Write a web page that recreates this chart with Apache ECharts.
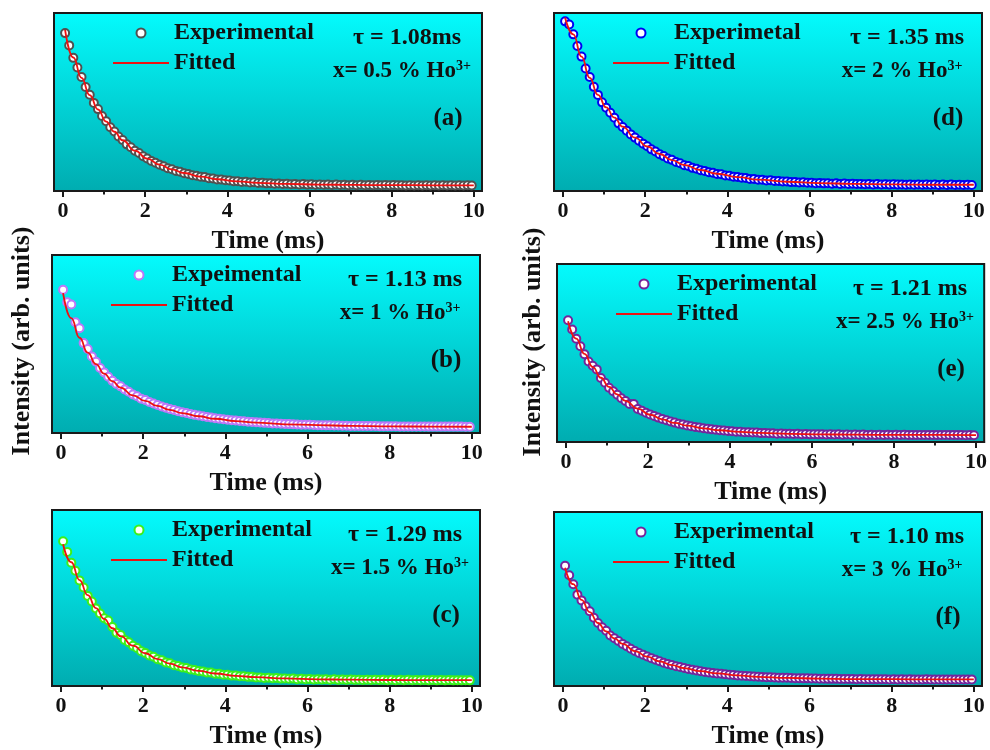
<!DOCTYPE html>
<html>
<head>
<meta charset="utf-8">
<script src="https://cdn.jsdelivr.net/npm/echarts@6/dist/echarts.min.js"></script>
<style>
html, body { margin: 0; padding: 0; background: #fff; }
#box1 { width: 990px; height: 750px; }
</style>
</head>
<body>
<div id="box1"></div>
<script>
// sampling times of the decay data (ms)
const aTime = [
    0.05, 0.15, 0.25, 0.35, 0.45, 0.55, 0.65, 0.75, 0.85, 0.95,
    1.05, 1.15, 1.25, 1.35, 1.45, 1.55, 1.65, 1.75, 1.85, 1.95,
    2.05, 2.15, 2.25, 2.35, 2.45, 2.55, 2.65, 2.75, 2.85, 2.95,
    3.05, 3.15, 3.25, 3.35, 3.45, 3.55, 3.65, 3.75, 3.85, 3.95,
    4.05, 4.15, 4.25, 4.35, 4.45, 4.55, 4.65, 4.75, 4.85, 4.95,
    5.05, 5.15, 5.25, 5.35, 5.45, 5.55, 5.65, 5.75, 5.85, 5.95,
    6.05, 6.15, 6.25, 6.35, 6.45, 6.55, 6.65, 6.75, 6.85, 6.95,
    7.05, 7.15, 7.25, 7.35, 7.45, 7.55, 7.65, 7.75, 7.85, 7.95,
    8.05, 8.15, 8.25, 8.35, 8.45, 8.55, 8.65, 8.75, 8.85, 8.95,
    9.05, 9.15, 9.25, 9.35, 9.45, 9.55, 9.65, 9.75, 9.85, 9.95,
];
// times of the fitted curves
const aFitTime = [0.05, 0.25, 0.45, 0.65, 0.85, 1.05, 1.25, 1.45, 1.75, 2.05, 2.35, 2.65, 2.95, 3.35, 3.75, 4.25, 4.75, 5.45, 6.25, 7.05, 8.05, 9.05, 10.0];

// intensities, read as a fraction of the panel height
const aExpA = [
    .887, .818, .748, .694, .640, .584, .541, .495, .460, .421,
    .392, .358, .334, .306, .287, .262, .246, .226, .213, .195,
    .183, .169, .159, .147, .139, .128, .122, .113, .108, .100,
    .096, .089, .086, .080, .078, .072, .070, .065, .064, .060,
    .059, .055, .055, .051, .052, .048, .049, .045, .046, .043,
    .044, .041, .042, .040, .041, .038, .040, .037, .039, .036,
    .038, .035, .037, .035, .036, .034, .036, .034, .035, .033,
    .035, .033, .035, .033, .034, .032, .034, .032, .034, .032,
    .034, .032, .033, .031, .033, .031, .033, .031, .033, .031,
    .033, .031, .033, .031, .033, .031, .032, .031, .032, .031,
];
const aFitA = [.905, .750, .636, .539, .458, .390, .333, .285, .227, .182, .148, .121, .101, .081, .066, .054, .046, .040, .036, .034, .033, .032, .032];

const aExpB = [
    .805, .735, .722, .622, .588, .505, .472, .430, .400, .365,
    .340, .316, .293, .275, .262, .244, .232, .216, .206, .193,
    .185, .174, .166, .157, .149, .142, .135, .129, .122, .117,
    .112, .107, .102, .098, .094, .090, .087, .083, .080, .077,
    .075, .072, .070, .067, .066, .063, .062, .060, .059, .057,
    .056, .054, .053, .052, .051, .050, .049, .048, .047, .046,
    .046, .045, .044, .044, .043, .043, .042, .042, .041, .041,
    .040, .040, .040, .039, .039, .039, .039, .038, .038, .038,
    .038, .038, .037, .037, .037, .037, .037, .037, .037, .036,
    .036, .036, .036, .036, .036, .036, .036, .036, .035, .035,
];
const aFitB = [.786, .645, .535, .452, .387, .334, .291, .255, .211, .180, .152, .130, .112, .094, .080, .067, .058, .049, .044, .040, .037, .036, .035];

const aExpC = [
    .822, .762, .700, .655, .600, .560, .512, .480, .440, .412,
    .385, .372, .335, .303, .290, .262, .248, .228, .216, .198,
    .188, .173, .166, .152, .146, .134, .129, .118, .114, .105,
    .102, .094, .091, .085, .083, .077, .076, .070, .069, .064,
    .064, .059, .059, .055, .055, .052, .052, .049, .049, .046,
    .047, .044, .045, .042, .043, .041, .042, .039, .041, .038,
    .040, .037, .039, .037, .038, .036, .038, .035, .037, .035,
    .037, .035, .036, .034, .036, .034, .036, .034, .035, .033,
    .035, .033, .035, .033, .035, .033, .034, .033, .034, .032,
    .034, .032, .034, .032, .034, .032, .033, .032, .033, .032,
];
const aFitC = [.805, .703, .602, .516, .443, .381, .328, .283, .229, .186, .153, .127, .106, .086, .071, .058, .050, .043, .038, .036, .034, .033, .033];

const aExpD = [
    .953, .935, .880, .815, .755, .688, .640, .585, .540, .498,
    .468, .440, .412, .380, .360, .339, .318, .300, .282, .266,
    .251, .234, .222, .207, .196, .183, .175, .163, .156, .145,
    .140, .130, .125, .117, .113, .106, .103, .096, .094, .087,
    .086, .080, .079, .074, .073, .068, .068, .063, .063, .059,
    .060, .056, .056, .053, .053, .050, .051, .048, .049, .046,
    .047, .044, .045, .043, .044, .041, .043, .040, .042, .039,
    .041, .039, .040, .038, .039, .037, .039, .037, .038, .036,
    .038, .036, .037, .035, .037, .035, .037, .035, .036, .035,
    .036, .034, .036, .034, .036, .034, .035, .034, .035, .034,
];
const aFitD = [.975, .880, .755, .635, .540, .470, .412, .362, .300, .250, .208, .174, .146, .118, .097, .078, .064, .052, .044, .040, .037, .035, .035];

const aExpE = [
    .684, .632, .580, .538, .493, .452, .428, .408, .360, .333,
    .305, .285, .265, .246, .230, .214, .214, .186, .176, .164,
    .155, .146, .137, .129, .122, .115, .109, .103, .098, .093,
    .089, .084, .081, .077, .075, .071, .069, .066, .065, .062,
    .061, .058, .058, .055, .055, .053, .053, .050, .051, .049,
    .049, .047, .048, .046, .047, .045, .046, .044, .045, .043,
    .044, .043, .044, .042, .043, .042, .043, .041, .042, .041,
    .042, .041, .042, .040, .041, .040, .041, .040, .041, .040,
    .041, .040, .041, .039, .040, .039, .040, .039, .040, .039,
    .040, .039, .040, .039, .040, .039, .039, .038, .039, .038,
];
const aFitE = [.678, .581, .495, .422, .361, .310, .267, .231, .187, .153, .127, .107, .092, .077, .066, .057, .051, .046, .043, .041, .040, .040, .039];

const aExpF = [
    .691, .636, .585, .525, .492, .458, .430, .392, .362, .338,
    .318, .290, .274, .259, .242, .228, .214, .201, .190, .180,
    .170, .160, .151, .142, .134, .127, .120, .114, .109, .103,
    .098, .093, .089, .085, .081, .078, .075, .072, .070, .067,
    .065, .063, .061, .059, .058, .056, .055, .053, .052, .051,
    .050, .049, .048, .047, .047, .046, .045, .045, .044, .044,
    .043, .043, .042, .042, .041, .041, .041, .040, .040, .040,
    .040, .039, .040, .039, .039, .039, .039, .039, .039, .038,
    .039, .038, .039, .038, .039, .038, .038, .038, .039, .038,
    .038, .038, .038, .038, .038, .038, .038, .038, .038, .038,
];
const aFitF = [.680, .585, .495, .425, .362, .314, .274, .242, .201, .169, .142, .120, .103, .085, .072, .061, .053, .047, .042, .040, .039, .038, .038];

const aTickMajor = [0, 2, 4, 6, 8, 10];
const aTickMinor = [1, 3, 5, 7, 9];

const aExpName = ['Experimental', 'Expeimental', 'Experimental', 'Experimetal', 'Experimental', 'Experimental'];
const aTau = ['τ = 1.08ms', 'τ = 1.13 ms', 'τ = 1.29 ms', 'τ = 1.35 ms', 'τ = 1.21 ms', 'τ = 1.10 ms'];
const aConc = ['0.5', '1', '1.5', '2', '2.5', '3'];
const aTag = ['(a)', '(b)', '(c)', '(d)', '(e)', '(f)'];

// panel frames (px) and marker colours
const aPanels = [
    { left: 54,  top: 13,  exp: aExpA, fit: aFitA, edge: '#505050' },
    { left: 52,  top: 255, exp: aExpB, fit: aFitB, edge: '#BC78F8' },
    { left: 52,  top: 510, exp: aExpC, fit: aFitC, edge: '#3CF01A' },
    { left: 554, top: 13,  exp: aExpD, fit: aFitD, edge: '#0000F2' },
    { left: 557, top: 264, exp: aExpE, fit: aFitE, edge: '#74249C' },
    { left: 554, top: 512, exp: aExpF, fit: aFitF, edge: '#74249C' },
];
const W = 428, H = 178;
const sFont = '"Liberation Serif", "Times New Roman", serif';
const sInk = '#111';
const sRed = '#EE1111';

const grid = [], xAxis = [], yAxis = [], series = [], legend = [], graphic = [];

aPanels.forEach((p, i) => {
    grid.push({
        left: p.left, top: p.top, width: W, height: H,
        show: true, borderColor: '#1a1a1a', borderWidth: 2,
        backgroundColor: {
            type: 'linear', x: 0, y: 0, x2: 0, y2: 1,
            colorStops: [{ offset: 0, color: '#04FBFD' }, { offset: 1, color: '#00ACB0' }],
        },
    });
    // major ticks + labels
    xAxis.push({
        gridIndex: i, type: 'value', min: -0.22, max: 10.2, position: 'bottom',
        axisLine: { show: true, onZero: false, lineStyle: { color: '#1a1a1a', width: 2 } },
        axisTick: { show: true, inside: false, length: 6, customValues: aTickMajor, lineStyle: { color: '#1a1a1a', width: 2 } },
        axisLabel: { customValues: aTickMajor, margin: 9, fontSize: 22, fontWeight: 'bold', fontFamily: sFont, color: sInk },
        splitLine: { show: false },
        name: 'Time (ms)', nameLocation: 'middle', nameGap: 37,
        nameTextStyle: { fontSize: 26, fontWeight: 'bold', fontFamily: sFont, color: sInk },
    });
    // minor ticks
    xAxis.push({
        gridIndex: i, type: 'value', min: -0.22, max: 10.2, position: 'bottom',
        axisLine: { show: false, onZero: false },
        axisTick: { show: true, inside: false, length: 3.5, customValues: aTickMinor, lineStyle: { color: '#1a1a1a', width: 2 } },
        axisLabel: { show: false },
        splitLine: { show: false },
    });
    yAxis.push({
        gridIndex: i, type: 'value', min: 0, max: 1,
        axisLine: { show: false }, axisTick: { show: false }, axisLabel: { show: false }, splitLine: { show: false },
    });

    series.push({
        name: 'exp' + i, type: 'scatter', xAxisIndex: 2 * i, yAxisIndex: i,
        data: aTime.map((t, k) => [t, p.exp[k]]),
        symbol: 'circle', symbolSize: 8,
        itemStyle: { color: '#fff', borderColor: p.edge, borderWidth: 2, opacity: 1 },
        z: 2,
    });
    series.push({
        name: 'fit' + i, type: 'line', xAxisIndex: 2 * i, yAxisIndex: i,
        data: aFitTime.map((t, k) => [t, p.fit[k]]),
        symbol: 'none', showSymbol: false, smooth: true, smoothMonotone: 'x',
        itemStyle: { color: sRed },
        lineStyle: { color: sRed, width: 1.8 },
        z: 3,
    });

    legend.push({
        left: p.left + 58, top: p.top + 8, orient: 'vertical', padding: 0,
        itemWidth: 56, itemHeight: 9, itemGap: 6, selectedMode: false,
        data: [
            { name: 'exp' + i, icon: 'circle', itemStyle: { color: '#fff', borderColor: p.edge, borderWidth: 2 } },
            { name: 'fit' + i, itemStyle: { opacity: 0 }, lineStyle: { color: sRed, width: 2 } },
        ],
        formatter: n => n.startsWith('exp') ? aExpName[i] : 'Fitted',
        textStyle: { fontSize: 24, fontWeight: 'bold', fontFamily: sFont, color: sInk },
    });

    const oText = { fontFamily: sFont, fontWeight: 'bold', fill: sInk };
    graphic.push({
        type: 'text', x: p.left + 353, y: p.top + 25,
        style: { ...oText, text: aTau[i], fontSize: 24, align: 'center', verticalAlign: 'middle' },
    });
    graphic.push({
        type: 'text', x: p.left + 348, y: p.top + 58,
        style: {
            ...oText, text: `{m|x= ${aConc[i]} % Ho}{s|3+}`, align: 'center', verticalAlign: 'middle',
            rich: {
                m: { ...oText, fontSize: 23, verticalAlign: 'bottom' },
                s: { ...oText, fontSize: 14, verticalAlign: 'top' },
            },
        },
    });
    graphic.push({
        type: 'text', x: p.left + 394, y: p.top + 106,
        style: { ...oText, text: aTag[i], fontSize: 25, align: 'center', verticalAlign: 'middle' },
    });
});

// shared y titles for the two columns
[[22, 341], [533, 342]].forEach(([x, y]) => {
    graphic.push({
        type: 'text', x, y, rotation: Math.PI / 2,
        style: { text: 'Intensity (arb. units)', fontFamily: sFont, fontWeight: 'bold', fill: sInk, fontSize: 26, align: 'center', verticalAlign: 'middle' },
    });
});

const myChart = echarts.init(document.getElementById('box1'));
myChart.setOption({
    animation: false,
    backgroundColor: '#fff',
    grid, xAxis, yAxis, series, legend, graphic,
});
</script>
</body>
</html>
